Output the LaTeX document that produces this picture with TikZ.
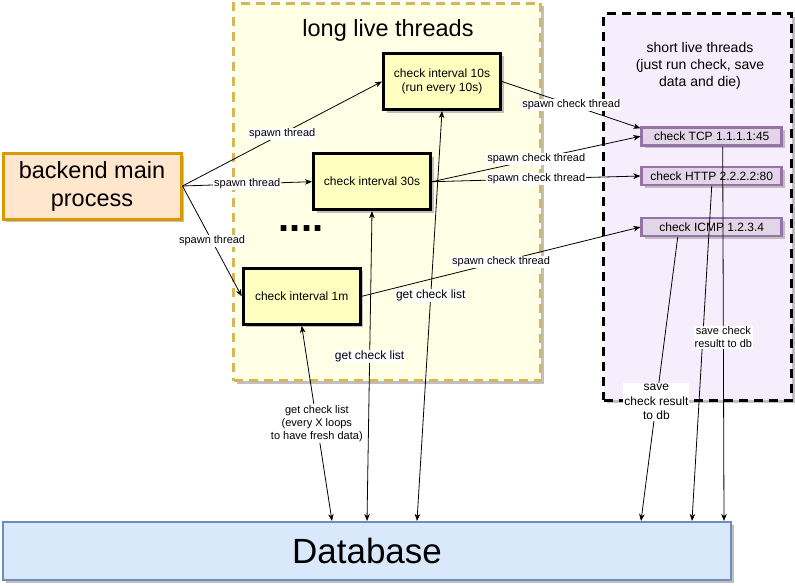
\documentclass[tikz,border=0pt]{standalone}
\usepackage{fontspec}
\setmainfont{Liberation Sans}
\usetikzlibrary{arrows.meta,shadows}
\definecolor{procfill}{HTML}{FFE6CC}
\definecolor{procline}{HTML}{D79B00}
\definecolor{longfill}{HTML}{FFFFE6}
\definecolor{longline}{HTML}{D6B656}
\definecolor{threadfill}{HTML}{FFFFC0}
\definecolor{shortfill}{HTML}{F6EEFC}
\definecolor{checkfill}{HTML}{E1D5E7}
\definecolor{checkline}{HTML}{9673A6}
\definecolor{dbfill}{HTML}{DAE8FC}
\definecolor{dbline}{HTML}{6C8EBF}

\begin{document}
\begin{tikzpicture}[x=1pt, y=-1pt,
    boxshadow/.style={drop shadow={shadow xshift=3pt, shadow yshift=-3pt, fill=black!25, opacity=1}},
    pane/.style={line width=3pt, dash pattern=on 9pt off 6pt, boxshadow},
    thread/.style={draw, line width=3pt, fill=threadfill, minimum width=117pt, minimum height=56pt,
      align=center, font=\fontsize{12}{14}\selectfont, boxshadow},
    checkbox/.style={draw=checkline, line width=2.5pt, fill=checkfill, minimum width=140pt,
      minimum height=18pt, inner sep=0pt, font=\fontsize{12}{14}\selectfont, boxshadow},
    lbl/.style={fill=white, inner sep=1pt, font=\fontsize{11}{13}\selectfont, align=center},
    biglbl/.style={lbl, font=\fontsize{12}{14.5}\selectfont},
    spawnarrow/.style={draw, line width=0.8pt, -{Stealth[length=7pt, width=5.5pt, inset=2pt]}},
    getarrow/.style={draw, line width=0.8pt,
      {Stealth[length=7pt, width=5.5pt, inset=2pt]}-{Stealth[length=7pt, width=5.5pt, inset=2pt]}}]
  \useasboundingbox (0,0) rectangle (795,586);

  % Containers
  \node[pane, draw=longline, fill=longfill, minimum width=307pt, minimum height=377pt] (longpane) at (387,192) {};
  \node[font=\fontsize{23.5}{28}\selectfont] (longtitle) at (388,30) {long live threads};
  \node[pane, draw, fill=shortfill, minimum width=188pt, minimum height=386pt] (shortpane) at (697.5,207) {};
  \node[font=\fontsize{14}{17}\selectfont, align=center] (shorttitle) at (700,66)
    {short live threads\\(just run check, save\\data and die)};

  % Main process and database
  \node[draw=procline, line width=3pt, fill=procfill, minimum width=178pt, minimum height=66pt,
    align=center, font=\fontsize{23.5}{28}\selectfont, boxshadow] (backend) at (92,186) {backend main\\process};
  \node[draw=dbline, line width=2pt, fill=dbfill, minimum width=728pt, minimum height=58pt,
    font=\fontsize{35}{40}\selectfont, boxshadow] (db) at (367,551) {Database};

  % Long live threads
  \node[thread] (t10) at (442,81.5) {check interval 10s\\(run every 10s)};
  \node[thread] (t30) at (372,181.7) {check interval 30s};
  \node[thread] (t1m) at (301.7,296.3) {check interval 1m};
  \node[anchor=base, font=\bfseries\fontsize{40}{40}\selectfont] (dots) at (301,231) {....};

  % Short live threads
  \node[checkbox] (tcp) at (711.7,136.3) {check TCP 1.1.1.1:45};
  \node[checkbox] (http) at (711.7,176) {check HTTP 2.2.2.2:80};
  \node[checkbox] (icmp) at (711.7,227) {check ICMP 1.2.3.4};

  % Spawning
  \draw[spawnarrow] (backend.east) -- node[lbl] {spawn thread} (t10.west);
  \draw[spawnarrow] (backend.east) -- node[lbl] {spawn thread} (t30.west);
  \draw[spawnarrow] (backend.east) -- node[lbl] {spawn thread} (t1m.west);
  \draw[spawnarrow] (t10.east) -- node[lbl] {spawn check thread} ([yshift=8pt]tcp.west);
  \draw[spawnarrow] (t30.east) -- node[lbl] {spawn check thread} (tcp.west);
  \draw[spawnarrow] (t30.east) -- node[lbl] {spawn check thread} (http.west);
  \draw[spawnarrow] (t1m.east) -- node[lbl] {spawn check thread} (icmp.west);

  % Reading check lists
  \draw[getarrow] (t1m.south) -- node[lbl]
    {get check list\\(every X loops\\to have fresh data)} ([xshift=-35pt]db.north);
  \draw[getarrow] (t30.south) -- node[biglbl, pos=0.47] {get check list} (db.north);
  \draw[getarrow] (t10.south) -- node[biglbl, pos=0.45] {get check list} ([xshift=50pt]db.north);

  % Saving results
  \draw[spawnarrow] ([xshift=-34pt]icmp.south) -- node[biglbl, pos=0.58]
    {save\\check result\\to db} ([xshift=274pt]db.north);
  \draw[spawnarrow] (http.south) -- ([xshift=325pt]db.north);
  \draw[spawnarrow] ([xshift=11pt]tcp.south) -- node[lbl, pos=0.51]
    {save check\\resultt to db} ([xshift=357pt]db.north);
\end{tikzpicture}
\end{document}
